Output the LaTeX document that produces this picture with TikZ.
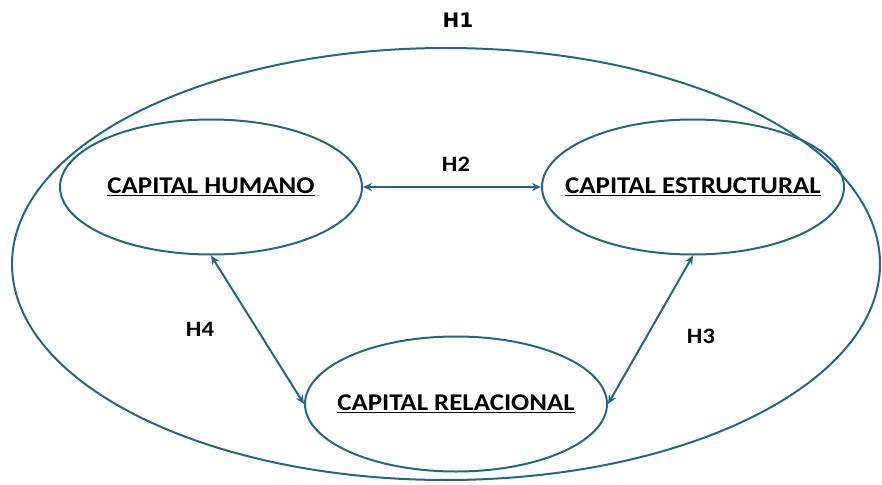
\documentclass[tikz,border=0pt]{standalone}
\usepackage{fontspec}
\setmainfont{Carlito}
\newfontfamily\heavyfont{DejaVu Sans}
\usetikzlibrary{shapes.geometric,arrows.meta}
\definecolor{capteal}{RGB}{31,105,133}
\newcommand{\capt}[1]{\scalebox{1.12}[1]{\underline{#1}}}
\newcommand{\hlab}[1]{\scalebox{1.12}[1]{#1}}

\begin{document}
\begin{tikzpicture}[x=1pt, y=-1pt,
    capbox/.style={ellipse, draw=capteal, line width=2pt, minimum width=302pt,
      minimum height=135pt, inner xsep=-120pt, inner ysep=0pt, font=\fontsize{24}{28}\selectfont\bfseries},
    hyp/.style={font=\fontsize{22}{26}\selectfont\bfseries},
    link/.style={draw=capteal, line width=2pt, {Stealth[length=9pt,width=8pt]}-{Stealth[length=9pt,width=8pt]}}]
    \useasboundingbox (0,0) rectangle (882,484);
    \draw[capteal, line width=2pt] (446,264) ellipse [x radius=434pt, y radius=216pt];
    \node[capbox] (humano) at (211,187) {\capt{CAPITAL HUMANO}};
    \node[capbox] (estructural) at (693,187) {\capt{CAPITAL ESTRUCTURAL}};
    \node[capbox] (relacional) at (456,404) {\capt{CAPITAL RELACIONAL}};
    \node[font=\fontsize{20}{24}\selectfont\heavyfont\bfseries] (h1) at (458,20) {H1};
    \node[hyp] (h2) at (456,164) {\hlab{H2}};
    \node[hyp] (h3) at (701,336) {\hlab{H3}};
    \node[hyp] (h4) at (200,329) {\hlab{H4}};
    \draw[link] (humano) -- (estructural);
    \draw[link] (humano.south) -- (relacional.west);
    \draw[link] (relacional.east) -- (estructural.south);
\end{tikzpicture}
\end{document}
